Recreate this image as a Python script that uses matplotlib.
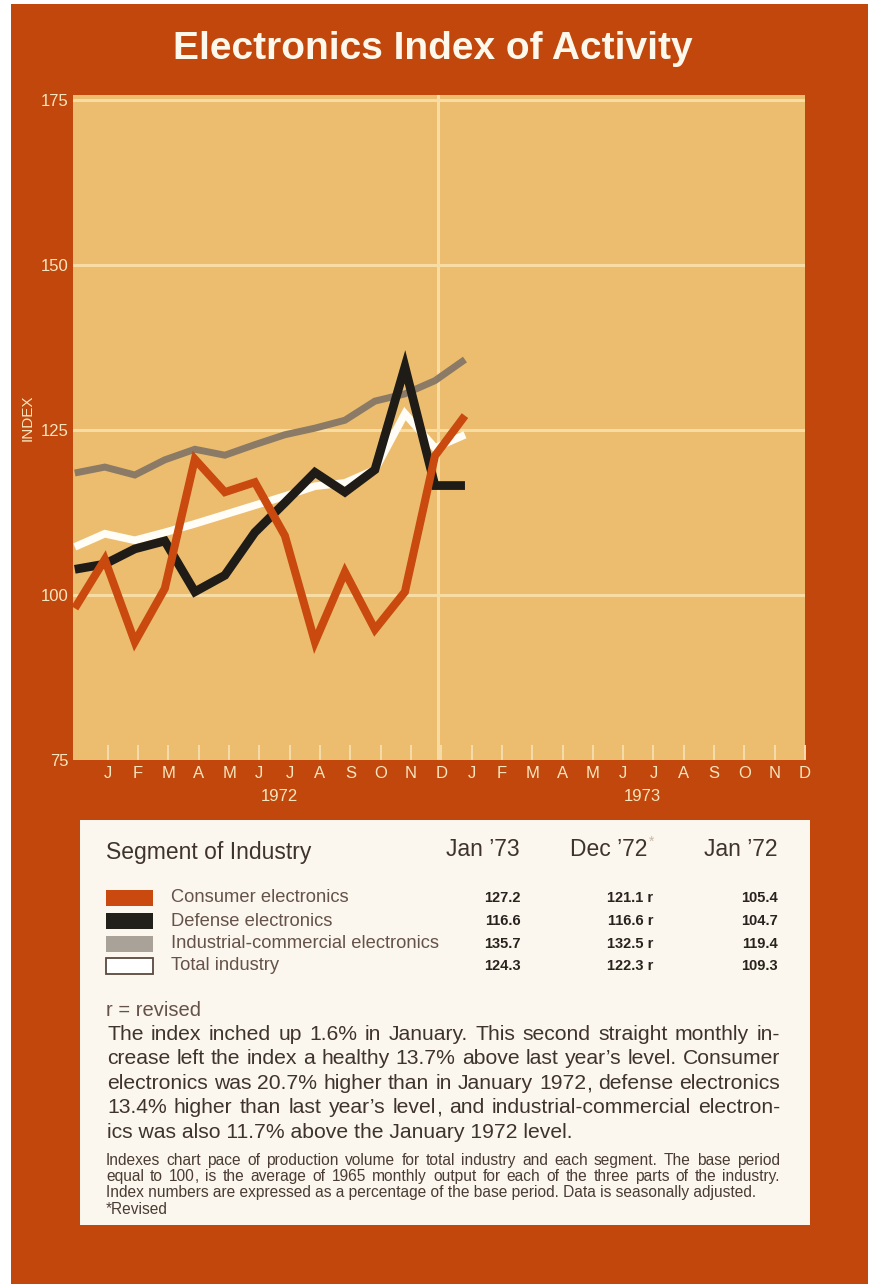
import matplotlib
matplotlib.use('Agg')
import matplotlib.pyplot as plt
from matplotlib.patches import Rectangle

# ---------------- data ----------------
# index: -1 = Dec 1971, 0 = Jan 1972 ... 11 = Dec 1972, 12 = Jan 1973
month_index = [-1, 0, 1, 2, 3, 4, 5, 6, 7, 8, 9, 10, 11, 12]
consumer = [98.0, 105.4, 92.9, 101.0, 120.6, 115.6, 117.1, 109.0, 92.9, 103.5, 94.8, 100.5, 121.1, 127.2]
defense = [103.9, 104.7, 107.0, 108.2, 100.5, 103.0, 109.5, 114.0, 118.6, 115.6, 119.0, 134.6, 116.6, 116.6]
industrial = [118.5, 119.4, 118.2, 120.5, 122.1, 121.2, 122.8, 124.3, 125.3, 126.5, 129.4, 130.5, 132.5, 135.7]
total = [107.3, 109.3, 108.3, 109.5, 110.8, 112.2, 113.6, 115.0, 116.5, 117.0, 119.0, 127.5, 122.3, 124.3]

month_letters = ['J', 'F', 'M', 'A', 'M', 'J', 'J', 'A', 'S', 'O', 'N', 'D'] * 2
year_labels = ['1972', '1973']
y_ticks = [75, 100, 125, 150, 175]

segments = ['Consumer electronics', 'Defense electronics',
            'Industrial\u2011commercial electronics', 'Total industry']
col_headers = ['Jan \u201973', 'Dec \u201972', 'Jan \u201972']
jan73 = ['127.2', '116.6', '135.7', '124.3']
dec72 = ['121.1 r', '116.6 r', '132.5 r', '122.3 r']
jan72 = ['105.4', '104.7', '119.4', '109.3']

paragraph = [
    "The index inched up 1.6% in January. This second straight monthly in-",
    "crease left the index a healthy 13.7% above last year\u2019s level. Consumer",
    "electronics was 20.7% higher than in January 1972, defense electronics",
    "13.4% higher than last year\u2019s level, and industrial-commercial electron-",
    "ics was also 11.7% above the January 1972 level.",
]
footnote = [
    "Indexes chart pace of production volume for total industry and each segment. The base period",
    "equal to 100, is the average of 1965 monthly output for each of the three parts of the industry.",
    "Index numbers are expressed as a percentage of the base period. Data is seasonally adjusted.",
    "*Revised",
]

# ---------------- styles ----------------
ORANGE_BG = '#c2470d'
PANEL = '#ecbd6e'
GRID = '#f7dca3'
CREAM = '#f7e6bd'
C_CONS = '#c9490f'
C_DEF = '#1f1b16'
C_IND = '#8b7a66'
C_TOT = '#fffdf6'
TEXT_DARK = '#3f332d'
TEXT_MID = '#65524a'
SANS = ['Liberation Sans', 'DejaVu Sans']

W, H = 880, 1284
fig = plt.figure(figsize=(W / 100, H / 100), dpi=100)
fig.patch.set_facecolor('white')

bg = fig.add_axes([0, 0, 1, 1], zorder=0)
bg.set_xlim(0, W)
bg.set_ylim(H, 0)
bg.axis('off')
bg.add_patch(Rectangle((11, 4), 857, H - 4, facecolor=ORANGE_BG, edgecolor='none'))
bg.add_patch(Rectangle((80, 820), 730, 405, facecolor='#fbf7ee', edgecolor='none'))

bg.text(433, 49, 'Electronics Index of Activity', ha='center', va='center',
        fontsize=28, fontweight='bold', family=SANS, color='#fdf8ec')

# ---------------- chart ----------------
ax = fig.add_axes([73 / W, 1 - 760 / H, (805 - 73) / W, (760 - 95) / H], zorder=2)
ax.set_facecolor(PANEL)
ax.set_xlim(-1.06, 23.18)
ax.set_ylim(75, 175.8)
for s in ax.spines.values():
    s.set_visible(False)

for yv in y_ticks[1:]:
    ax.axhline(yv, color=GRID, lw=2.2, zorder=1)
ax.axvline(11.1, color=GRID, lw=2.2, zorder=1)

kw = dict(solid_capstyle='butt', solid_joinstyle='miter')
ax.plot(month_index, industrial, color=C_IND, lw=5.0, zorder=3, **kw)
ax.plot(month_index, total, color=C_TOT, lw=5.5, zorder=4, **kw)
ax.plot(month_index, defense, color=C_DEF, lw=6.3, zorder=5, **kw)
ax.plot(month_index, consumer, color=C_CONS, lw=5.8, zorder=6, **kw)

ax.set_yticks(y_ticks)
ax.set_yticklabels([str(v) for v in y_ticks], family=SANS, fontsize=12, color=CREAM)
ax.tick_params(axis='y', length=0, pad=3)

tick_pos = [i * 1.01 + 0.1 for i in range(24)]
ax.set_xticks(tick_pos)
ax.set_xticklabels(month_letters, family=SANS, fontsize=12, color=CREAM)
ax.tick_params(axis='x', direction='in', length=11, width=1.4, color='#f6dcaa', pad=4)

ax.text(-0.062, 0.515, 'INDEX', transform=ax.transAxes, rotation=90, ha='center',
        va='center', fontsize=11, family=SANS, color=CREAM)
ax.text(5.8, -0.055, year_labels[0], transform=ax.get_xaxis_transform(), ha='center',
        va='center', fontsize=12, family=SANS, color=CREAM)
ax.text(17.9, -0.055, year_labels[1], transform=ax.get_xaxis_transform(), ha='center',
        va='center', fontsize=12, family=SANS, color=CREAM)

# ---------------- table ----------------
bg.text(106, 852, 'Segment of Industry', ha='left', va='center', fontsize=16.5,
        family=SANS, color=TEXT_DARK)
bg.text(520, 850, col_headers[0], ha='right', va='center', fontsize=16.5, family=SANS, color=TEXT_DARK)
bg.text(647, 850, col_headers[1], ha='right', va='center', fontsize=16.5, family=SANS, color=TEXT_DARK)
bg.text(649, 842, '*', ha='left', va='center', fontsize=10, family=SANS, color='#c8b8a8')
bg.text(778, 850, col_headers[2], ha='right', va='center', fontsize=16.5, family=SANS, color=TEXT_DARK)

row_y = [898, 921, 944, 966]
sw_colors = [C_CONS, '#22201b', '#a8a298', 'white']
for i, yy in enumerate(row_y):
    ec = '#5a4a40' if i == 3 else 'none'
    bg.add_patch(Rectangle((106, yy - 8), 47, 16, facecolor=sw_colors[i], edgecolor=ec, lw=1.3))
    bg.text(171, yy, segments[i], ha='left', va='center', fontsize=13.2, family=SANS, color=TEXT_MID)
    bg.text(521, yy, jan73[i], ha='right', va='center', fontsize=10.5, fontweight='bold',
            family=SANS, color='#2a221e')
    bg.text(653, yy, dec72[i], ha='right', va='center', fontsize=10.5, fontweight='bold',
            family=SANS, color='#2a221e')
    bg.text(778, yy, jan72[i], ha='right', va='center', fontsize=10.5, fontweight='bold',
            family=SANS, color='#2a221e')

bg.text(106, 1011, 'r = revised', ha='left', va='center', fontsize=14.5, family=SANS, color=TEXT_MID)

renderer = fig.canvas.get_renderer()


def text_width(s, size):
    t = bg.text(0, 0, s, fontsize=size, family=SANS)
    w = t.get_window_extent(renderer).width
    t.remove()
    return w


def place_line(line, x0, x1, y, size, color, justify):
    if not justify:
        bg.text(x0, y, line, ha='left', va='baseline', fontsize=size, family=SANS, color=color)
        return
    words = line.split(' ')
    widths = [text_width(w, size) for w in words]
    gap = (x1 - x0 - sum(widths)) / (len(words) - 1)
    x = x0
    for w, wd in zip(words, widths):
        if w.endswith(',') and len(w) > 1:
            # draw the trailing comma on its own so the word keeps the common baseline
            core = w[:-1]
            bg.text(x, y, core, ha='left', va='baseline', fontsize=size, family=SANS, color=color)
            bg.text(x + text_width(core, size), y, ',', ha='left', va='baseline',
                    fontsize=size, family=SANS, color=color)
        else:
            bg.text(x, y, w, ha='left', va='baseline', fontsize=size, family=SANS, color=color)
        x += wd + gap


para_size = 20.0
while para_size > 9 and max(text_width(l, para_size) for l in paragraph[:4]) > (780 - 107):
    para_size -= 0.1
para_base = [1040, 1064, 1089, 1113, 1138]
for i, line in enumerate(paragraph):
    place_line(line, 107, 780, para_base[i], para_size, TEXT_DARK, i < 4)

foot_size = 14.0
while foot_size > 6 and text_width(footnote[2], foot_size) > (764 - 106):
    foot_size -= 0.1
foot_base = [1165, 1181, 1197, 1214]
for i, line in enumerate(footnote):
    place_line(line, 106, 780, foot_base[i], foot_size, '#4a3c34', i < 2)

fig.savefig('out.png', dpi=100, facecolor=fig.get_facecolor())
